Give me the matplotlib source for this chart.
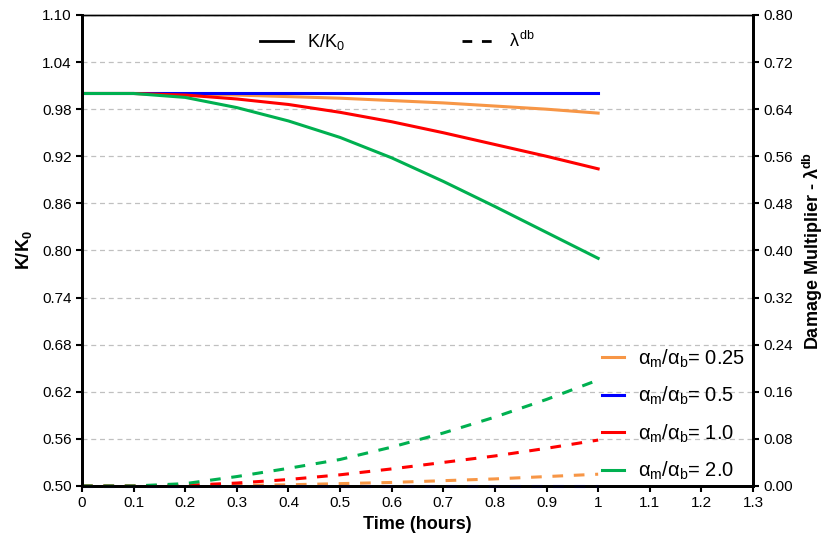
import matplotlib
matplotlib.use('Agg')
import matplotlib.pyplot as plt
from matplotlib.lines import Line2D
import numpy as np

plt.rcParams['font.family'] = ['Liberation Sans', 'DejaVu Sans']
plt.rcParams['mathtext.fontset'] = 'custom'
plt.rcParams['mathtext.rm'] = 'Liberation Sans'
plt.rcParams['mathtext.it'] = 'Liberation Sans'
plt.rcParams['mathtext.bf'] = 'Liberation Sans:bold'

# time (hours)
t = [0, 0.1, 0.2, 0.3, 0.4, 0.5, 0.6, 0.7, 0.8, 0.9, 1.0]

# K/K0 for each alpha ratio
k_025 = [1.0, 1.0, 0.9995, 0.998, 0.996, 0.994, 0.991, 0.988, 0.984, 0.980, 0.975]
k_05 = [1.0, 1.0, 1.0, 1.0, 1.0, 1.0, 1.0, 1.0, 1.0, 1.0, 1.0]
k_10 = [1.0, 1.0, 0.998, 0.993, 0.986, 0.976, 0.964, 0.950, 0.935, 0.920, 0.904]
k_20 = [1.0, 1.0, 0.995, 0.982, 0.965, 0.944, 0.918, 0.888, 0.856, 0.823, 0.790]

# damage multiplier lambda_db
l_025 = [0, 0, 0, 0.001, 0.002, 0.004, 0.006, 0.009, 0.012, 0.016, 0.020]
l_05 = [0, 0, 0, 0, 0, 0, 0, 0, 0, 0, 0]
l_10 = [0, 0, 0.001, 0.005, 0.011, 0.019, 0.029, 0.040, 0.051, 0.064, 0.078]
l_20 = [0, 0, 0.004, 0.016, 0.030, 0.045, 0.066, 0.090, 0.117, 0.147, 0.180]

labels = ['0.25', '0.5', '1.0', '2.0']
colors = ['#f79646', '#0000ff', '#ff0000', '#00b050']

fig = plt.figure(figsize=(8.26, 5.45), dpi=100)
ax = fig.add_axes([0.0993, 0.1083, 0.8123, 0.8642])
ax2 = ax.twinx()

for k, c in zip([k_025, k_05, k_10, k_20], colors):
    ax.plot(t, k, color=c, lw=2.2)
for l, c in zip([l_025, l_05, l_10, l_20], colors):
    ax2.plot(t, l, color=c, lw=2.2, ls=(0, (3.5, 3.5)), clip_on=False)

ax.set_xlim(0, 1.3)
ax.set_ylim(0.5, 1.1)
ax2.set_ylim(0, 0.8)
ax.set_xticks(np.arange(0, 1.31, 0.1))
ax.set_xticklabels(['0'] + ['%.1f' % v for v in np.arange(0.1, 0.95, 0.1)] + ['1', '1.1', '1.2', '1.3'])
ax.set_yticks(np.arange(0.5, 1.101, 0.06))
ax.set_yticklabels(['%.2f' % v for v in np.arange(0.5, 1.101, 0.06)])
ax2.set_yticks(np.arange(0, 0.801, 0.08))
ax2.set_yticklabels(['%.2f' % v for v in np.arange(0, 0.801, 0.08)])

ax.yaxis.grid(True, ls=(0, (4, 3)), color='#c0c0c0', lw=0.9)
ax.set_axisbelow(True)

for a in (ax, ax2):
    a.tick_params(labelsize=11, length=4, width=1.5, direction='out', colors='black')
    for s in ['left', 'right', 'bottom']:
        a.spines[s].set_linewidth(2)
    a.spines['top'].set_linewidth(1)

ax.set_xlabel('Time (hours)', fontsize=13, fontweight='bold')
ax.set_ylabel(r'$\mathbf{K/K_0}$', fontsize=13, labelpad=6)
ax2.set_ylabel(r'Damage Multiplier - $\mathbf{\lambda^{db}}$', fontsize=13, fontweight='bold', labelpad=6)

# line style legend
style_handles = [Line2D([], [], color='black', lw=2), Line2D([], [], color='black', lw=2, ls=(0, (3.5, 3.5)))]
leg1 = ax2.legend(style_handles, ['K/K$_0$', r'$\lambda^{\mathrm{db}}$'], loc='upper center',
                  bbox_to_anchor=(0.47, 1.0), ncol=2, frameon=False, fontsize=13,
                  handlelength=1.8, columnspacing=6.5)
ax2.add_artist(leg1)

# alpha ratio legend
ratio_handles = [Line2D([], [], color=c, lw=2.2) for c in colors]
ax2.legend(ratio_handles, [r'$\alpha_{\mathrm{m}}/\alpha_{\mathrm{b}}$= ' + s for s in labels],
           loc='lower right', bbox_to_anchor=(1.015, -0.03), frameon=False, fontsize=14.5,
           handlelength=1.1, labelspacing=0.75, handletextpad=0.7)

fig.savefig('out.png', dpi=100)
